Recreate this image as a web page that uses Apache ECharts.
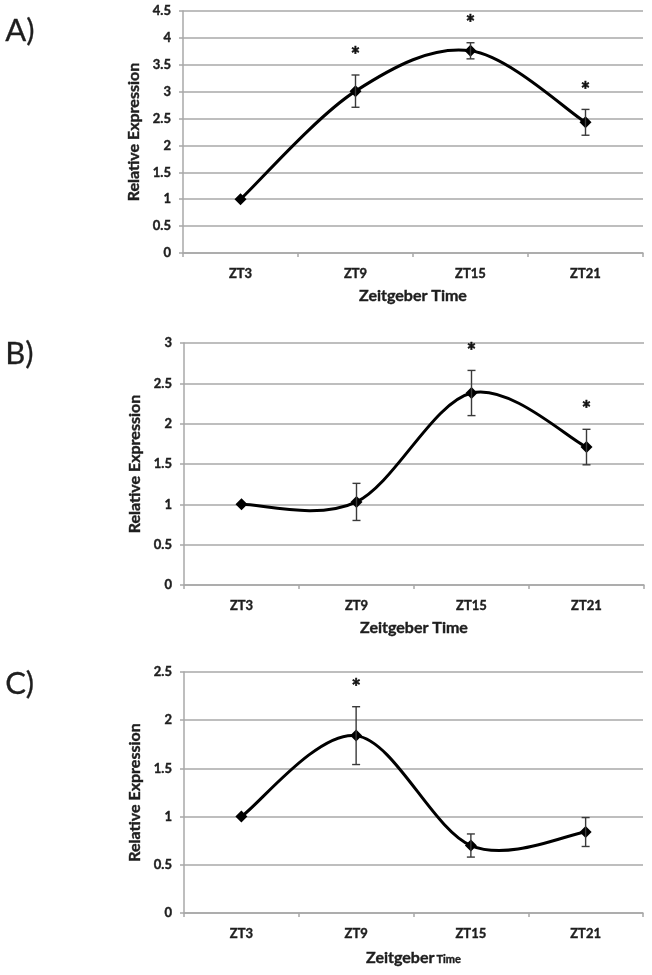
<!DOCTYPE html>
<html>
<head>
<meta charset="utf-8">
<script src="https://cdn.jsdelivr.net/npm/echarts@6/dist/echarts.min.js"></script>
<style>
html,body{margin:0;padding:0;background:#fff;}
#c{width:652px;height:975px;}
</style>
</head>
<body>
<div id="c"></div>
<script>
const categories = ['ZT3', 'ZT9', 'ZT15', 'ZT21'];

const meanA = [1, 3.01, 3.76, 2.43];
const errA  = [0, 0.30, 0.15, 0.24];
const sigA  = [false, true, true, true];

const meanB = [1, 1.03, 2.38, 1.71];
const errB  = [0, 0.23, 0.28, 0.22];
const sigB  = [false, false, true, true];

const meanC = [1, 1.84, 0.70, 0.84];
const errC  = [0, 0.30, 0.12, 0.15];
const sigC  = [false, true, false, false];

const yMax = [4.5, 3, 2.5];
const yInterval = 0.5;
const panelLabels = ['A)', 'B)', 'C)'];
const xName = 'Zeitgeber Time';
const yName = 'Relative Expression';

const FONT = 'Lato';
const TXT = '#1e1e1e';
const GRIDC = '#a8a8a8';

const grids = [
  {left: 183, right: 9, top: 11, height: 242},
  {left: 184, right: 8, top: 343, height: 242},
  {left: 184, right: 9, top: 672, height: 241}
];
const labelTops = [15, 338, 668];

const panels = [
  {mean: meanA, err: errA, sig: sigA},
  {mean: meanB, err: errB, sig: sigB},
  {mean: meanC, err: errC, sig: sigC}
];

const heavy = {textBorderColor: TXT, textBorderWidth: 0.4};
const xAxes = [], yAxes = [], series = [], graphics = [];

panels.forEach((p, i) => {
  xAxes.push({
    gridIndex: i, type: 'category', data: categories, boundaryGap: true,
    axisLine: {show: true, lineStyle: {color: GRIDC, width: 1.5}},
    axisTick: {show: true, length: 4, lineStyle: {color: GRIDC, width: 1.5}},
    axisLabel: Object.assign({color: TXT, fontFamily: FONT, fontWeight: 'bold', fontSize: 13, margin: 14}, heavy),
    name: i === 2 ? '{a|Zeitgeber}{b|Time}' : xName,
    nameLocation: 'middle', nameGap: 35,
    nameTextStyle: i === 2 ? {
      rich: {
        a: Object.assign({color: TXT, fontFamily: FONT, fontWeight: 'bold', fontSize: 16, lineHeight: 18, verticalAlign: 'bottom'}, heavy),
        b: Object.assign({color: TXT, fontFamily: FONT, fontWeight: 'bold', fontSize: 11, lineHeight: 18, verticalAlign: 'bottom', padding: [0, 0, 1, 2]}, heavy)
      }
    } : Object.assign({color: TXT, fontFamily: FONT, fontWeight: 'bold', fontSize: 16}, heavy)
  });
  yAxes.push({
    gridIndex: i, type: 'value', min: 0, max: yMax[i], interval: yInterval,
    axisLine: {show: true, lineStyle: {color: GRIDC, width: 1.5}},
    axisTick: {show: true, length: 4, lineStyle: {color: GRIDC, width: 1.5}},
    splitLine: {show: true, lineStyle: {color: GRIDC, width: 1.5}},
    axisLabel: Object.assign({color: TXT, fontFamily: FONT, fontWeight: 'bold', fontSize: 13, margin: 12}, heavy),
    name: yName, nameLocation: 'middle', nameGap: 40, nameRotate: 90,
    nameTextStyle: Object.assign({color: TXT, fontFamily: FONT, fontWeight: 'bold', fontSize: 16}, heavy)
  });
  // smooth curve (Excel-like Catmull-Rom) through the data points, via axis coords
  const curveData = p.mean.map((m, k) => [k, m]);
  series.push({
    type: 'custom', xAxisIndex: i, yAxisIndex: i, data: curveData, z: 2,
    renderItem: function (params, api) {
      if (params.dataIndex !== 0) return null;
      const pts = curveData.map(d => api.coord(d));
      const n = pts.length;
      let path = 'M' + pts[0][0] + ' ' + pts[0][1];
      for (let k = 0; k < n - 1; k++) {
        const p0 = pts[Math.max(k - 1, 0)], p1 = pts[k], p2 = pts[k + 1], p3 = pts[Math.min(k + 2, n - 1)];
        const c1 = [p1[0] + (p2[0] - p0[0]) / 6, p1[1] + (p2[1] - p0[1]) / 6];
        const c2 = [p2[0] - (p3[0] - p1[0]) / 6, p2[1] - (p3[1] - p1[1]) / 6];
        path += ' C' + c1[0] + ' ' + c1[1] + ' ' + c2[0] + ' ' + c2[1] + ' ' + p2[0] + ' ' + p2[1];
      }
      return {type: 'path', shape: {pathData: path}, style: {fill: null, stroke: '#000', lineWidth: 3}};
    }
  });
  series.push({
    type: 'scatter', xAxisIndex: i, yAxisIndex: i, data: p.mean,
    symbol: 'diamond', symbolSize: 12, itemStyle: {color: '#000', opacity: 1}, z: 3
  });
  const ebData = p.mean.map((m, k) => [k, m - p.err[k], m + p.err[k], p.sig[k] ? 1 : 0]);
  series.push({
    type: 'custom', xAxisIndex: i, yAxisIndex: i, data: ebData, z: 4,
    renderItem: function (params, api) {
      const x = api.value(0);
      const lo = api.coord([x, api.value(1)]);
      const hi = api.coord([x, api.value(2)]);
      const cw = 4;
      const children = [];
      if (api.value(2) - api.value(1) > 0) {
        const st = {stroke: '#3a3a3a', lineWidth: 1.4};
        children.push({type: 'line', shape: {x1: hi[0], y1: hi[1], x2: lo[0], y2: lo[1]}, style: st});
        children.push({type: 'line', shape: {x1: hi[0] - cw, y1: hi[1], x2: hi[0] + cw, y2: hi[1]}, style: st});
        children.push({type: 'line', shape: {x1: lo[0] - cw, y1: lo[1], x2: lo[0] + cw, y2: lo[1]}, style: st});
      }
      if (api.value(3) === 1) {
        children.push({type: 'text', x: hi[0], y: hi[1] - 25 + 6,
          style: {text: '*', fill: '#111', font: 'bold 22px ' + FONT, align: 'center', verticalAlign: 'middle',
                  stroke: '#111', lineWidth: 0.6}});
      }
      return {type: 'group', children: children};
    }
  });
  graphics.push({
    type: 'text', left: 5, top: labelTops[i],
    style: {text: panelLabels[i], fill: TXT, font: '31px ' + FONT, stroke: TXT, lineWidth: 0.3}
  });
});

const chart = echarts.init(document.getElementById('c'), null, {renderer: 'canvas'});
chart.setOption({
  animation: false,
  backgroundColor: '#fff',
  grid: grids,
  xAxis: xAxes,
  yAxis: yAxes,
  series: series,
  graphic: graphics
});
</script>
</body>
</html>
